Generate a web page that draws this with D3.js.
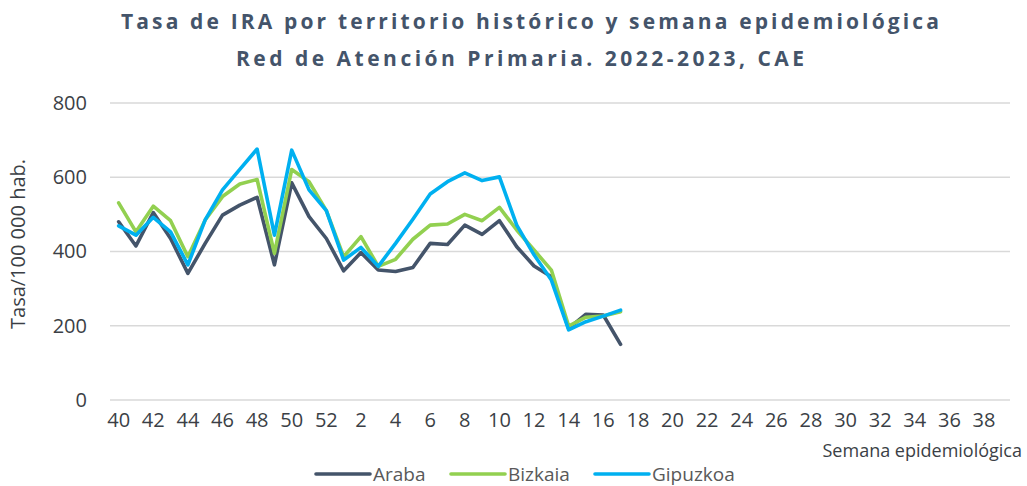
<!DOCTYPE html>
<html>
<head>
<meta charset="utf-8">
<script src="https://cdn.jsdelivr.net/npm/d3@7"></script>
<style>
  body { margin: 0; background: #fff; }
  svg text { font-family: "Open Sans", "Noto Sans", sans-serif; }
</style>
</head>
<body>
<svg id="chart" width="1027" height="486"></svg>
<script>
// weeks 40..52 then 1..39
var weeks = d3.range(40, 53).concat(d3.range(1, 40));
var tickWeeks = weeks.filter(function(w) { return w % 2 === 0; });

var araba    = [480, 415, 505, 435, 341, 422, 498, 525, 546, 364, 585, 494, 435, 348, 397, 350,
                346, 357, 422, 419, 471, 446, 483, 413, 361, 332, 193, 231, 229, 150];
var bizkaia  = [531, 453, 522, 483, 386, 485, 548, 582, 594, 395, 621, 588, 510, 386, 440, 360,
                379, 433, 471, 474, 500, 483, 519, 458, 404, 350, 199, 223, 226, 238];
var gipuzkoa = [469, 444, 492, 453, 364, 485, 566, 621, 676, 444, 673, 566, 510, 377, 411, 360,
                422, 487, 555, 588, 612, 591, 601, 471, 391, 323, 189, 211, 226, 242];

var seriesNames = ["Araba", "Bizkaia", "Gipuzkoa"];
var colors = ["#44546A", "#92D050", "#00B0F0"];
var yTicks = [0, 200, 400, 600, 800];

var svg = d3.select("#chart"),
    margin = {top: 103, right: 17, bottom: 86, left: 110},
    g = svg.append("g").attr("transform", "translate(" + margin.left + "," + margin.top + ")");

var x = d3.scaleBand().domain(weeks).range([0, 900]),
    y = d3.scaleLinear().domain([0, 800]).range([297, 0]),
    z = d3.scaleOrdinal().domain(seriesNames).range(colors);

// title
var title = svg.append("g")
    .attr("fill", "#44546A")
    .attr("font-weight", "bold")
    .attr("font-size", 21)
    .attr("text-anchor", "middle")
    .style("font-family", "Lato, sans-serif");
title.append("text").attr("x", 530).attr("y", 29)
    .attr("textLength", 818).attr("lengthAdjust", "spacing")
    .text("Tasa de IRA por territorio histórico y semana epidemiológica");
title.append("text").attr("x", 520).attr("y", 66)
    .attr("textLength", 568).attr("lengthAdjust", "spacing")
    .text("Red de Atención Primaria. 2022-2023, CAE");

// grid
g.append("g")
    .attr("class", "grid")
  .selectAll("line")
  .data(yTicks)
  .enter().append("line")
    .attr("x1", 0)
    .attr("x2", 900)
    .attr("y1", function(d) { return y(d); })
    .attr("y2", function(d) { return y(d); })
    .attr("stroke", "#d9d9d9")
    .attr("stroke-width", 1.3);

// y axis
var yAxis = g.append("g")
    .call(d3.axisLeft(y).tickValues(yTicks).tickSize(0).tickPadding(23));
yAxis.select(".domain").remove();
yAxis.selectAll("text")
    .attr("font-size", 20)
    .attr("fill", "#3b3f46")
    .style("font-family", "'Open Sans', sans-serif");

// x axis
var xAxis = g.append("g")
    .attr("transform", "translate(0," + y(0) + ")")
    .call(d3.axisBottom(x).tickValues(tickWeeks).tickSize(0).tickPadding(13));
xAxis.select(".domain").remove();
xAxis.selectAll("text")
    .attr("font-size", 20)
    .attr("fill", "#3b3f46")
    .style("font-family", "'Open Sans', sans-serif");

// axis titles
svg.append("text")
    .attr("transform", "translate(25,244) rotate(-90)")
    .attr("text-anchor", "middle")
    .attr("font-size", 20)
    .attr("fill", "#3b3f46")
    .text("Tasa/100 000 hab.");

svg.append("text")
    .attr("x", 1022)
    .attr("y", 457)
    .attr("text-anchor", "end")
    .attr("font-size", 18)
    .attr("fill", "#3b3f46")
    .text("Semana epidemiológica");

// lines
var data = [araba, bizkaia, gipuzkoa].map(function(vals, i) {
  return {
    id: seriesNames[i],
    values: vals.map(function(v, j) { return {week: weeks[j], value: v}; })
  };
});

var line = d3.line()
    .x(function(d) { return x(d.week) + x.bandwidth() / 2; })
    .y(function(d) { return y(d.value); });

g.selectAll(".serie")
  .data(data)
  .enter().append("path")
    .attr("class", "serie")
    .attr("fill", "none")
    .attr("stroke-width", 3.6)
    .attr("stroke-linejoin", "round")
    .attr("stroke-linecap", "round")
    .attr("stroke", function(d) { return z(d.id); })
    .attr("d", function(d) { return line(d.values); });

// legend
var legendX = [316, 451, 595];
var legend = svg.append("g")
  .selectAll("g")
  .data(seriesNames)
  .enter().append("g")
    .attr("transform", function(d, i) { return "translate(" + legendX[i] + ",474)"; });

legend.append("line")
    .attr("x1", 0).attr("x2", 54)
    .attr("stroke", z)
    .attr("stroke-width", 3.6)
    .attr("stroke-linecap", "round");

legend.append("text")
    .attr("x", 57)
    .attr("y", 6.5)
    .attr("font-size", 19)
    .attr("fill", "#595959")
    .text(function(d) { return d; });
</script>
</body>
</html>
